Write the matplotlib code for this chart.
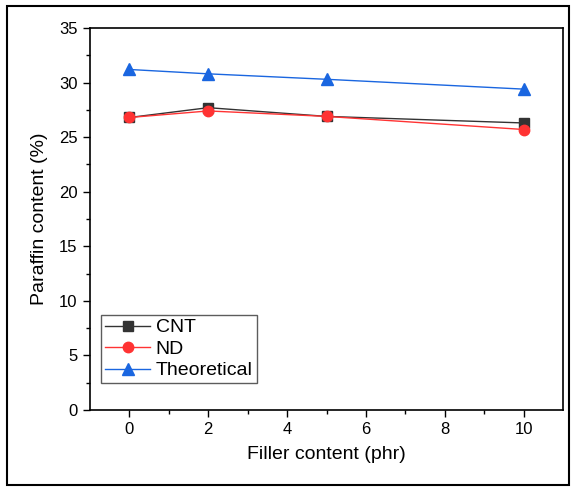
import matplotlib
matplotlib.use("Agg")
import matplotlib.pyplot as plt
from matplotlib.patches import Rectangle

plt.rcParams['font.family'] = ['Liberation Sans', 'DejaVu Sans']

filler = [0, 2, 5, 10]
cnt = [26.8, 27.7, 26.9, 26.3]
nd = [26.8, 27.4, 26.9, 25.7]
theoretical = [31.2, 30.8, 30.3, 29.4]

fig = plt.figure(figsize=(5.71, 4.87), dpi=100)
ax = fig.add_axes([90 / 571, 77 / 487, 473 / 571, 382 / 487])

ax.plot(filler, cnt, color='#333333', marker='s', markersize=6.5, lw=1, label='CNT')
ax.plot(filler, nd, color='#ff3333', marker='o', markersize=7.5, lw=1, label='ND')
ax.plot(filler, theoretical, color='#1a66e0', marker='^', markersize=8.5, lw=1, label='Theoretical')

ax.set_xlim(-1, 11)
ax.set_ylim(0, 35)
ax.set_xticks([0, 2, 4, 6, 8, 10])
ax.set_xticks([1, 3, 5, 7, 9], minor=True)
ax.set_yticks(range(0, 36, 5))
ax.set_yticks([2.5 + 5 * i for i in range(7)], minor=True)
ax.tick_params(which='major', direction='out', length=5, width=1, labelsize=12, pad=4)
ax.tick_params(which='minor', direction='out', length=3, width=1)
for s in ax.spines.values():
    s.set_linewidth(1.2)

ax.set_xlabel('Filler content (phr)', fontsize=14, labelpad=6)
ax.set_ylabel('Paraffin content (%)', fontsize=14, labelpad=8)

leg = ax.legend(loc='lower left', bbox_to_anchor=(0.024, 0.07), fontsize=14,
                fancybox=False, edgecolor='#333333', handlelength=2.3,
                handletextpad=0.3, borderpad=0.2, labelspacing=0.2, borderaxespad=0)
leg.get_frame().set_linewidth(1)

fig.patches.append(Rectangle((7 / 571, 2 / 487), 562 / 571, 479 / 487, transform=fig.transFigure,
                             fill=False, edgecolor='black', linewidth=1.5))

fig.savefig('out.png', dpi=100)
